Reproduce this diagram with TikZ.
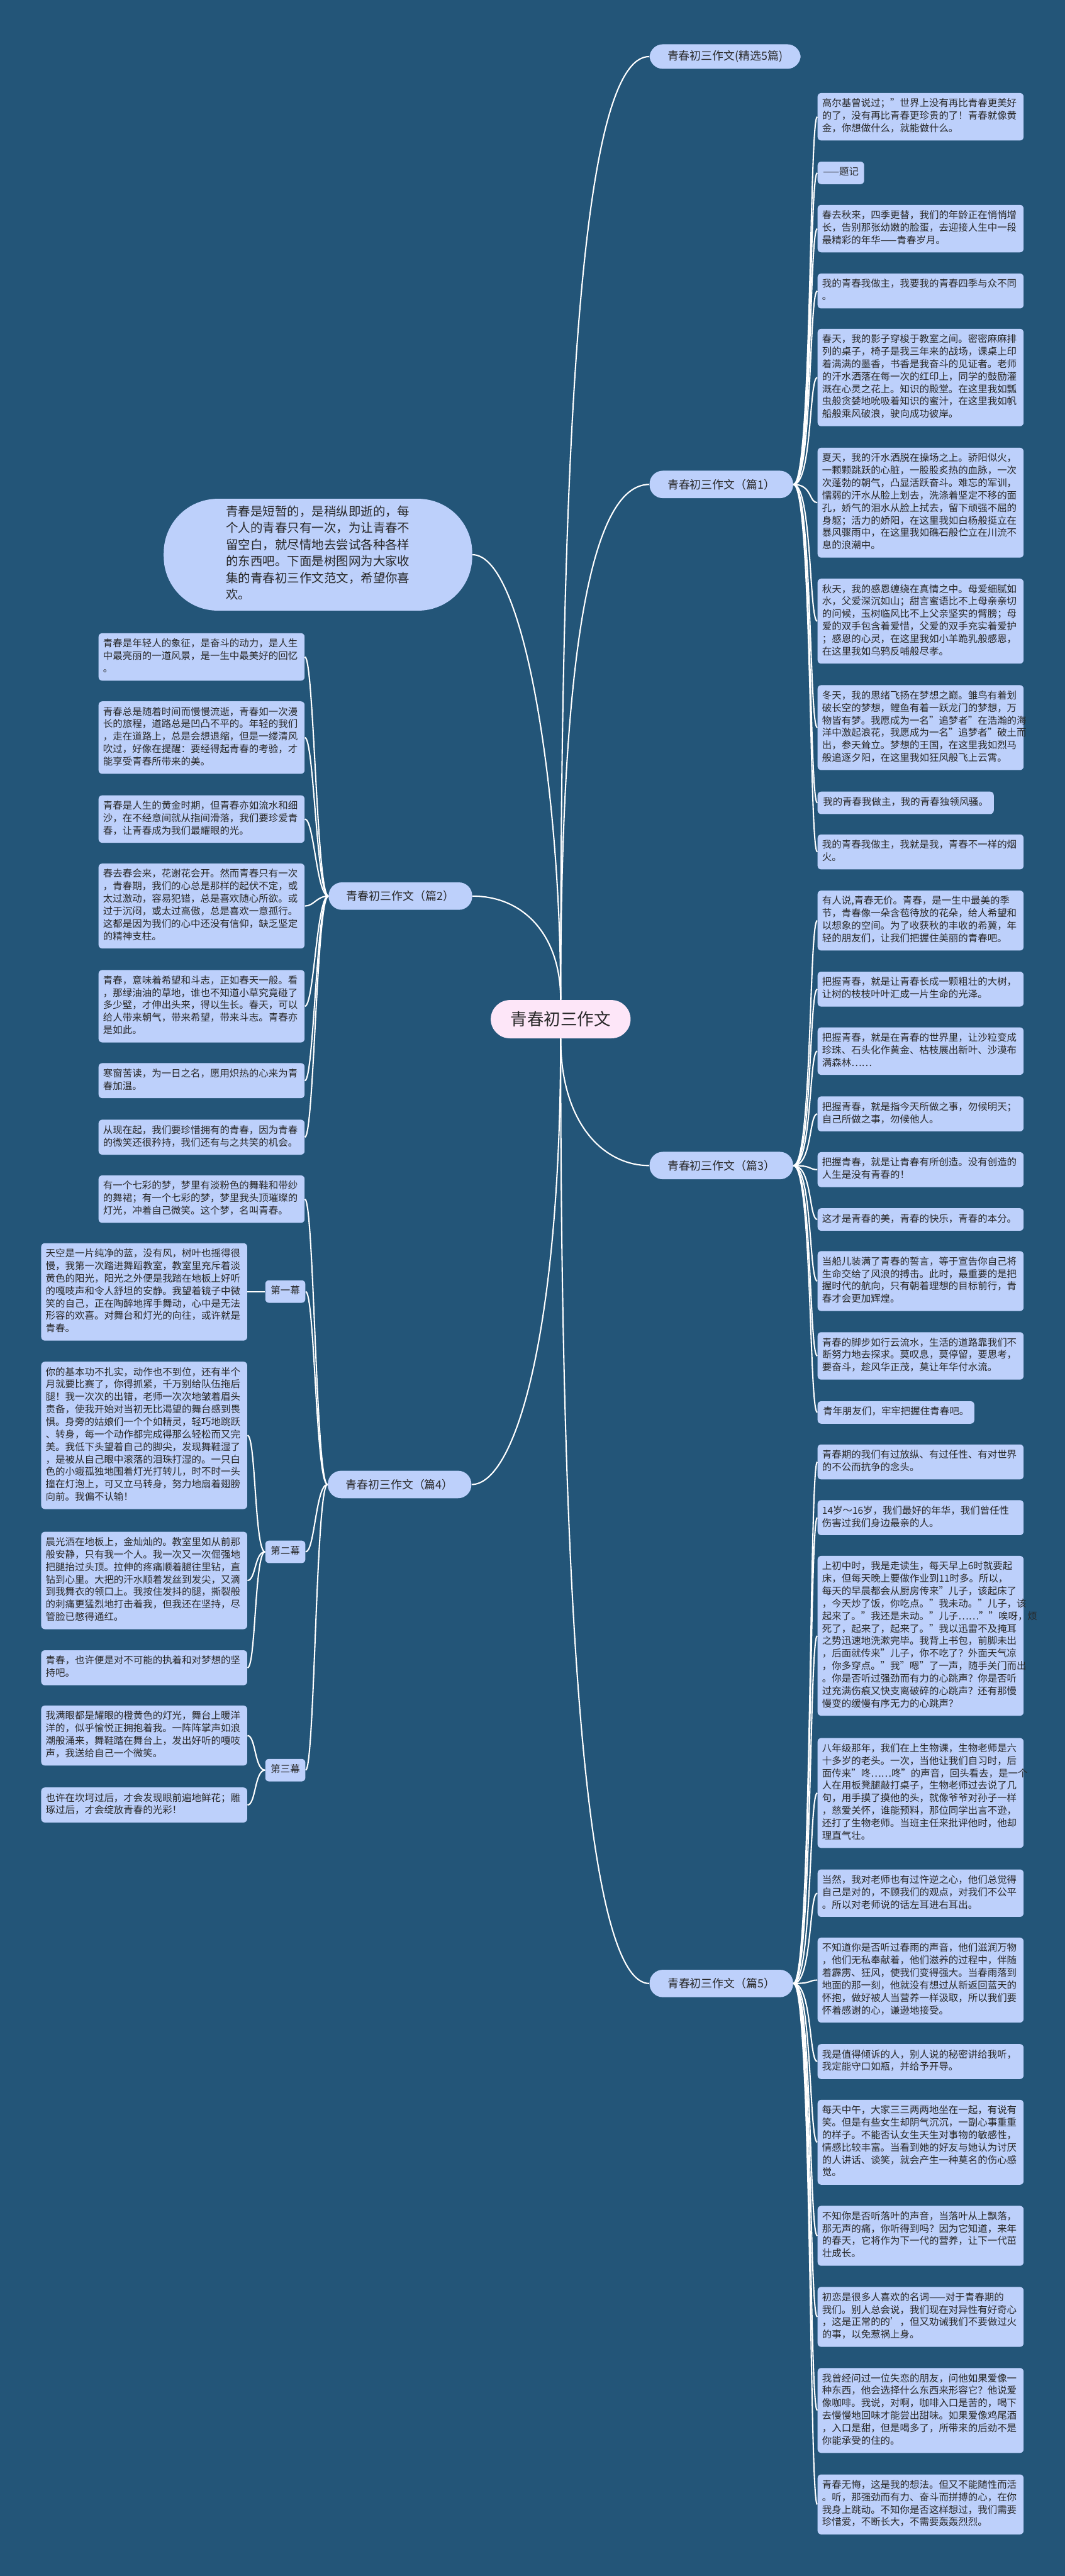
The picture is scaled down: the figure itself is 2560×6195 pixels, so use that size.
\documentclass[tikz,border=0pt]{standalone}
\usepackage{fontspec}
\setmainfont{Noto Sans CJK SC}
\usepackage{tikz}
\definecolor{bgblue}{RGB}{35,85,120}
\definecolor{leafblue}{RGB}{189,208,251}
\definecolor{rootpink}{RGB}{253,230,248}
\definecolor{inkgray}{RGB}{40,40,40}

\begin{document}
\begin{tikzpicture}[x=0.01cm,y=-0.01cm,
	leaf/.style={fill=leafblue,rounded corners=2.5pt,text=inkgray,align=left,text width=4.73cm,inner xsep=0.11cm,inner ysep=3.42pt,font=\fontsize{6.65pt}{8.54pt}\selectfont,execute at begin node=\strut,execute at end node=\strut},
	shortleaf/.style={leaf,text width={},inner xsep=0.13cm},
	act/.style={leaf,text width={},inner xsep=0.13cm,align=center},
	branch/.style={fill=leafblue,rounded corners=0.32cm,text=inkgray,minimum height=0.66cm,minimum width=3.45cm,inner xsep=0.2cm,font=\fontsize{7.7pt}{9pt}\selectfont},
	bubble/.style={fill=leafblue,rounded corners=1.3cm,text=inkgray,align=left,inner xsep=1.5cm,inner ysep=0.158cm,font=\fontsize{8.37pt}{11.4pt}\selectfont,execute at begin node=\strut,execute at end node=\strut},
	root/.style={fill=rootpink,rounded corners=0.46cm,text=inkgray,minimum width=3.36cm,minimum height=0.92cm,font=\fontsize{11.4pt}{13pt}\selectfont},
	link/.style={draw=white,line width=0.9pt}]
	\useasboundingbox[fill=bgblue] (0,0) rectangle (2560,6195);

	\node[root] (ctr) at (1348,2451) {青春初三作文};
	\node[branch,anchor=west,minimum width=3.63cm,minimum height=0.59cm] (ttl) at (1561,136) {青春初三作文(精选5篇)};
	\node[branch,anchor=west] (b1) at (1561,1165) {青春初三作文（篇1）};
	\node[bubble,anchor=east] (bub) at (1136,1334) {青春是短暂的，是稍纵即逝的，每\\个人的青春只有一次，为让青春不\\留空白，就尽情地去尝试各种各样\\的东西吧。下面是树图网为大家收\\集的青春初三作文范文，希望你喜\\欢。};
	\node[branch,anchor=east] (b2) at (1136,2155) {青春初三作文（篇2）};
	\node[branch,anchor=west] (b3) at (1561,2803) {青春初三作文（篇3）};
	\node[branch,anchor=east] (b4) at (1134,3570) {青春初三作文（篇4）};
	\node[branch,anchor=west] (b5) at (1561,4770) {青春初三作文（篇5）};

	\node[leaf,anchor=north west] (r1) at (1965,223) {高尔基曾说过；"世界上没有再比青春更美好\\的了，没有再比青春更珍贵的了！青春就像黄\\金，你想做什么，就能做什么。};
	\node[shortleaf,anchor=north west] (r2) at (1965,388) {——题记};
	\node[leaf,anchor=north west] (r3) at (1965,492) {春去秋来，四季更替，我们的年龄正在悄悄增\\长，告别那张幼嫩的脸蛋，去迎接人生中一段\\最精彩的年华——青春岁月。};
	\node[leaf,anchor=north west] (r4) at (1965,657) {我的青春我做主，我要我的青春四季与众不同\\。};
	\node[leaf,anchor=north west] (r5) at (1965,790) {春天，我的影子穿梭于教室之间。密密麻麻排\\列的桌子，椅子是我三年来的战场，课桌上印\\着满满的墨香，书香是我奋斗的见证者。老师\\的汗水洒落在每一次的红印上，同学的鼓励灌\\溉在心灵之花上。知识的殿堂。在这里我如瓢\\虫般贪婪地吮吸着知识的蜜汁，在这里我如帆\\船般乘风破浪，驶向成功彼岸。};
	\node[leaf,anchor=north west] (r6) at (1965,1076) {夏天，我的汗水洒脱在操场之上。骄阳似火，\\一颗颗跳跃的心脏，一股股炙热的血脉，一次\\次蓬勃的朝气，凸显活跃奋斗。难忘的军训，\\懦弱的汗水从脸上划去，洗涤着坚定不移的面\\孔，娇气的泪水从脸上拭去，留下顽强不屈的\\身躯；活力的娇阳，在这里我如白杨般挺立在\\暴风骤雨中，在这里我如礁石般伫立在川流不\\息的浪潮中。};
	\node[leaf,anchor=north west] (r7) at (1965,1391) {秋天，我的感恩缠绕在真情之中。母爱细腻如\\水，父爱深沉如山；甜言蜜语比不上母亲亲切\\的问候，玉树临风比不上父亲坚实的臂膀；母\\爱的双手包含着爱惜，父爱的双手充实着爱护\\；感恩的心灵，在这里我如小羊跪乳般感恩，\\在这里我如乌鸦反哺般尽孝。};
	\node[leaf,anchor=north west] (r8) at (1965,1647) {冬天，我的思绪飞扬在梦想之巅。雏鸟有着划\\破长空的梦想，鲤鱼有着一跃龙门的梦想，万\\物皆有梦。我愿成为一名"追梦者"在浩瀚的海\\洋中激起浪花，我愿成为一名"追梦者"破土而\\出，参天耸立。梦想的王国，在这里我如烈马\\般追逐夕阳，在这里我如狂风般飞上云霄。};
	\node[shortleaf,anchor=north west] (r9) at (1965,1903) {我的青春我做主，我的青春独领风骚。};
	\node[leaf,anchor=north west] (r10) at (1965,2006) {我的青春我做主，我就是我，青春不一样的烟\\火。};

	\node[leaf,anchor=north west] (r11) at (1965,2141) {有人说,青春无价。青春，是一生中最美的季\\节，青春像一朵含苞待放的花朵，给人希望和\\以想象的空间。为了收获秋的丰收的希冀，年\\轻的朋友们，让我们把握住美丽的青春吧。};
	\node[leaf,anchor=north west] (r12) at (1965,2336) {把握青春，就是让青春长成一颗粗壮的大树，\\让树的枝枝叶叶汇成一片生命的光泽。};
	\node[leaf,anchor=north west] (r13) at (1965,2470) {把握青春，就是在青春的世界里，让沙粒变成\\珍珠、石头化作黄金、枯枝展出新叶、沙漠布\\满森林……};
	\node[leaf,anchor=north west] (r14) at (1965,2636) {把握青春，就是指今天所做之事，勿候明天；\\自己所做之事，勿候他人。};
	\node[leaf,anchor=north west] (r15) at (1965,2770) {把握青春，就是让青春有所创造。没有创造的\\人生是没有青春的！};
	\node[leaf,anchor=north west] (r16) at (1965,2905) {这才是青春的美，青春的快乐，青春的本分。};
	\node[leaf,anchor=north west] (r17) at (1965,3008) {当船儿装满了青春的誓言，等于宣告你自己将\\生命交给了风浪的搏击。此时，最重要的是把\\握时代的航向，只有朝着理想的目标前行，青\\春才会更加辉煌。};
	\node[leaf,anchor=north west] (r18) at (1965,3203) {青春的脚步如行云流水，生活的道路靠我们不\\断努力地去探求。莫叹息，莫停留，要思考，\\要奋斗，趁风华正茂，莫让年华付水流。};
	\node[shortleaf,anchor=north west] (r19) at (1965,3369) {青年朋友们，牢牢把握住青春吧。};

	\node[leaf,anchor=north west] (r20) at (1965,3473) {青春期的我们有过放纵、有过任性、有对世界\\的不公而抗争的念头。};
	\node[leaf,anchor=north west] (r21) at (1965,3607) {14岁～16岁，我们最好的年华，我们曾任性\\伤害过我们身边最亲的人。};
	\node[leaf,anchor=north west] (r22) at (1965,3741) {上初中时，我是走读生，每天早上6时就要起\\床，但每天晚上要做作业到11时多。所以，\\每天的早晨都会从厨房传来"儿子，该起床了\\，今天炒了饭，你吃点。"我未动。"儿子，该\\起来了。"我还是未动。"儿子……""唉呀，烦\\死了，起来了，起来了。"我以迅雷不及掩耳\\之势迅速地洗漱完毕。我背上书包，前脚未出\\，后面就传来"儿子，你不吃了？外面天气凉\\，你多穿点。"我"嗯"了一声，随手关门而出\\。你是否听过强劲而有力的心跳声？你是否听\\过充满伤痕又快支离破碎的心跳声？还有那慢\\慢变的缓慢有序无力的心跳声？};
	\node[leaf,anchor=north west] (r23) at (1965,4179) {八年级那年，我们在上生物课，生物老师是六\\十多岁的老头。一次，当他让我们自习时，后\\面传来"咚……咚"的声音，回头看去，是一个\\人在用板凳腿敲打桌子，生物老师过去说了几\\句，用手摸了摸他的头，就像爷爷对孙子一样\\，慈爱关怀，谁能预料，那位同学出言不逊，\\还打了生物老师。当班主任来批评他时，他却\\理直气壮。};
	\node[leaf,anchor=north west] (r24) at (1965,4495) {当然，我对老师也有过忤逆之心，他们总觉得\\自己是对的，不顾我们的观点，对我们不公平\\。所以对老师说的话左耳进右耳出。};
	\node[leaf,anchor=north west] (r25) at (1965,4659) {不知道你是否听过春雨的声音，他们滋润万物\\，他们无私奉献着，他们滋养的过程中，伴随\\着霹雳、狂风，使我们变得强大。当春雨落到\\地面的那一刻，他就没有想过从新返回蓝天的\\怀抱，做好被人当营养一样汲取，所以我们要\\怀着感谢的心，谦逊地接受。};
	\node[leaf,anchor=north west] (r26) at (1965,4915) {我是值得倾诉的人，别人说的秘密讲给我听，\\我定能守口如瓶，并给予开导。};
	\node[leaf,anchor=north west] (r27) at (1965,5049) {每天中午，大家三三两两地坐在一起，有说有\\笑。但是有些女生却阴气沉沉，一副心事重重\\的样子。不能否认女生天生对事物的敏感性，\\情感比较丰富。当看到她的好友与她认为讨厌\\的人讲话、谈笑，就会产生一种莫名的伤心感\\觉。};
	\node[leaf,anchor=north west] (r28) at (1965,5304) {不知你是否听落叶的声音，当落叶从上飘落，\\那无声的痛，你听得到吗？因为它知道，来年\\的春天，它将作为下一代的营养，让下一代茁\\壮成长。};
	\node[leaf,anchor=north west] (r29) at (1965,5499) {初恋是很多人喜欢的名词——对于青春期的\\我们。别人总会说，我们现在对异性有好奇心\\，这是正常的的'，但又劝诫我们不要做过火\\的事，以免惹祸上身。};
	\node[leaf,anchor=north west] (r30) at (1965,5694) {我曾经问过一位失恋的朋友，问他如果爱像一\\种东西，他会选择什么东西来形容它？他说爱\\像咖啡。我说，对啊，咖啡入口是苦的，喝下\\去慢慢地回味才能尝出甜味。如果爱像鸡尾酒\\，入口是甜，但是喝多了，所带来的后劲不是\\你能承受的住的。};
	\node[leaf,anchor=north west] (r31) at (1965,5950) {青春无悔，这是我的想法。但又不能随性而活\\。听，那强劲而有力、奋斗而拼搏的心，在你\\我身上跳动。不知你是否这样想过，我们需要\\珍惜爱，不断长大，不需要轰轰烈烈。};

	\node[leaf,anchor=north east] (l1) at (733,1522) {青春是年轻人的象征，是奋斗的动力，是人生\\中最亮丽的一道风景，是一生中最美好的回忆\\。};
	\node[leaf,anchor=north east] (l2) at (733,1686) {青春总是随着时间而慢慢流逝，青春如一次漫\\长的旅程，道路总是凹凸不平的。年轻的我们\\，走在道路上，总是会想退缩，但是一缕清风\\吹过，好像在提醒：要经得起青春的考验，才\\能享受青春所带来的美。};
	\node[leaf,anchor=north east] (l3) at (733,1912) {青春是人生的黄金时期，但青春亦如流水和细\\沙，在不经意间就从指间滑落，我们要珍爱青\\春，让青春成为我们最耀眼的光。};
	\node[leaf,anchor=north east] (l4) at (733,2076) {春去春会来，花谢花会开。然而青春只有一次\\，青春期，我们的心总是那样的起伏不定，或\\太过激动，容易犯错，总是喜欢随心所欲。或\\过于沉闷，或太过高傲，总是喜欢一意孤行。\\这都是因为我们的心中还没有信仰，缺乏坚定\\的精神支柱。};
	\node[leaf,anchor=north east] (l5) at (733,2332) {青春，意味着希望和斗志，正如春天一般。看\\，那绿油油的草地，谁也不知道小草究竟碰了\\多少壁，才伸出头来，得以生长。春天，可以\\给人带来朝气，带来希望，带来斗志。青春亦\\是如此。};
	\node[leaf,anchor=north east] (l6) at (733,2556) {寒窗苦读，为一日之名，愿用炽热的心来为青\\春加温。};
	\node[leaf,anchor=north east] (l7) at (733,2692) {从现在起，我们要珍惜拥有的青春，因为青春\\的微笑还很矜持，我们还有与之共笑的机会。};

	\node[leaf,anchor=north east] (s0) at (733,2826) {有一个七彩的梦，梦里有淡粉色的舞鞋和带纱\\的舞裙；有一个七彩的梦，梦里我头顶璀璨的\\灯光，冲着自己微笑。这个梦，名叫青春。};
	\node[act] (m1) at (686,3106) {第一幕};
	\node[act] (m2) at (686,3732) {第二幕};
	\node[act] (m3) at (686,4257) {第三幕};
	\node[leaf,anchor=north east] (c1) at (595,2989) {天空是一片纯净的蓝，没有风，树叶也摇得很\\慢，我第一次踏进舞蹈教室，教室里充斥着淡\\黄色的阳光，阳光之外便是我踏在地板上好听\\的嘎吱声和令人舒坦的安静。我望着镜子中微\\笑的自己，正在陶醉地挥手舞动，心中是无法\\形容的欢喜。对舞台和灯光的向往，或许就是\\青春。};
	\node[leaf,anchor=north east] (c2) at (595,3274) {你的基本功不扎实，动作也不到位，还有半个\\月就要比赛了，你得抓紧，千万别给队伍拖后\\腿！我一次次的出错，老师一次次地皱着眉头\\责备，使我开始对当初无比渴望的舞台感到畏\\惧。身旁的姑娘们一个个如精灵，轻巧地跳跃\\、转身，每一个动作都完成得那么轻松而又完\\美。我低下头望着自己的脚尖，发现舞鞋湿了\\，是被从自己眼中滚落的泪珠打湿的。一只白\\色的小蛾孤独地围着灯光打转儿，时不时一头\\撞在灯泡上，可又立马转身，努力地扇着翅膀\\向前。我偏不认输！};
	\node[leaf,anchor=north east] (c3) at (595,3683) {晨光洒在地板上，金灿灿的。教室里如从前那\\般安静，只有我一个人。我一次又一次倔强地\\把腿抬过头顶。拉伸的疼痛顺着腿往里钻，直\\钻到心里。大把的汗水顺着发丝到发尖，又滴\\到我舞衣的领口上。我按住发抖的腿，撕裂般\\的刺痛更猛烈地打击着我，但我还在坚持，尽\\管脸已憋得通红。};
	\node[leaf,anchor=north east] (c4) at (595,3968) {青春，也许便是对不可能的执着和对梦想的坚\\持吧。};
	\node[leaf,anchor=north east] (c5) at (595,4101) {我满眼都是耀眼的橙黄色的灯光，舞台上暖洋\\洋的，似乎愉悦正拥抱着我。一阵阵掌声如浪\\潮般涌来，舞鞋踏在舞台上，发出好听的嘎吱\\声，我送给自己一个微笑。};
	\node[leaf,anchor=north east] (c6) at (595,4298) {也许在坎坷过后，才会发现眼前遍地鲜花；雕\\琢过后，才会绽放青春的光彩！};

	\draw[link] (ctr.north) .. controls (1348,1000) and (1400,136) .. (ttl.west);
	\draw[link] (ctr.north) .. controls (1348,1700) and (1400,1165) .. (b1.west);
	\draw[link] (ctr.north) .. controls (1348,1900) and (1260,1334) .. (bub.east);
	\draw[link] (ctr.north) .. controls (1348,2250) and (1260,2155) .. (b2.east);
	\draw[link] (ctr.south) .. controls (1348,2700) and (1450,2803) .. (b3.west);
	\draw[link] (ctr.south) .. controls (1348,3200) and (1240,3570) .. (b4.east);
	\draw[link] (ctr.south) .. controls (1348,4000) and (1420,4770) .. (b5.west);

	\foreach \i in {1,...,10} \draw[link] (b1.east) .. controls +(45,0) and +(-20,0) .. (r\i.west);
	\foreach \i in {11,...,19} \draw[link] (b3.east) .. controls +(45,0) and +(-20,0) .. (r\i.west);
	\foreach \i in {20,...,31} \draw[link] (b5.east) .. controls +(45,0) and +(-20,0) .. (r\i.west);
	\foreach \i in {1,...,7} \draw[link] (b2.west) .. controls +(-28,0) and +(22,0) .. (l\i.east);
	\foreach \n in {s0,m1,m2,m3} \draw[link] (b4.west) .. controls +(-28,0) and +(22,0) .. (\n.east);
	\draw[link] (m1.west) -- (c1.east |- m1.west);
	\foreach \i in {2,3,4} \draw[link] (m2.west) .. controls +(-25,0) and +(20,0) .. (c\i.east);
	\foreach \i in {5,6} \draw[link] (m3.west) .. controls +(-25,0) and +(20,0) .. (c\i.east);
\end{tikzpicture}
\end{document}
